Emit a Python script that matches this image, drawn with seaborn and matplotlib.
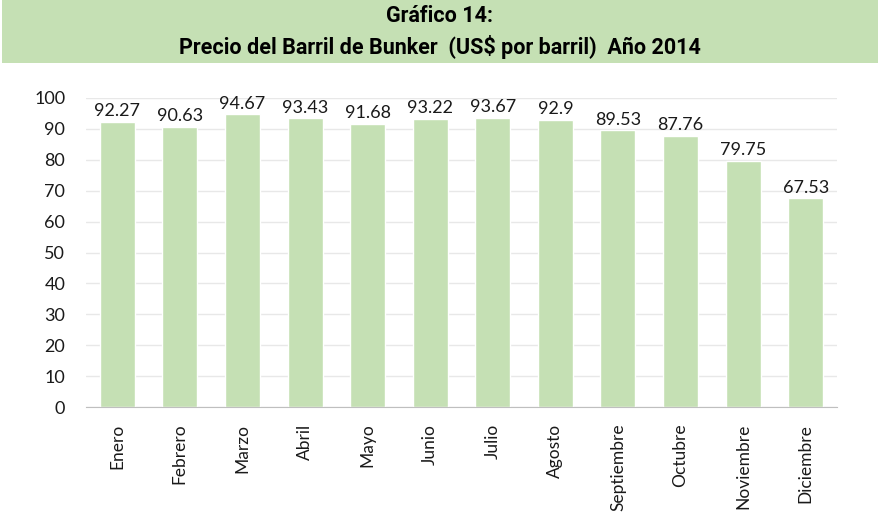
import matplotlib
matplotlib.use('Agg')
import matplotlib.pyplot as plt
import pandas as pd
import seaborn as sns
from matplotlib.patches import Rectangle

meses = ['Enero', 'Febrero', 'Marzo', 'Abril', 'Mayo', 'Junio', 'Julio',
         'Agosto', 'Septiembre', 'Octubre', 'Noviembre', 'Diciembre']
precios = [92.27, 90.63, 94.67, 93.43, 91.68, 93.22, 93.67, 92.9,
           89.53, 87.76, 79.75, 67.53]
etiquetas = ['92.27', '90.63', '94.67', '93.43', '91.68', '93.22', '93.67',
             '92.9', '89.53', '87.76', '79.75', '67.53']

df = pd.DataFrame({'Mes': meses, 'Precio': precios})

sns.set_style('white')
plt.rcParams['font.family'] = ['Lato', 'DejaVu Sans']

verde = '#c5e0b4'
fig = plt.figure(figsize=(8.79, 5.18), dpi=100)

# Banda del titulo
fig.patches.append(Rectangle((2 / 879, 1 - 63 / 518), 1, 63 / 518, transform=fig.transFigure,
                             facecolor=verde, edgecolor='none', zorder=0))
fuente_titulo = ['Roboto', 'DejaVu Sans']
fig.text(0.5, 1 - 16 / 518, 'Gráfico 14:', ha='center', va='center', fontsize=15.5,
         fontweight='bold', family=fuente_titulo, color='black')
fig.text(0.5, 1 - 47 / 518, 'Precio del Barril de Bunker  (US$ por barril)  Año 2014',
         ha='center', va='center', fontsize=15.5, fontweight='bold',
         family=fuente_titulo, color='black')

ax = fig.add_axes([86 / 879, 1 - 407 / 518, (837 - 86) / 879, 309 / 518])
sns.barplot(data=df, x='Mes', y='Precio', color=verde, saturation=1, width=0.56, ax=ax)
ax.bar_label(ax.containers[0], labels=etiquetas, padding=2, fontsize=13, color='#1a1a1a')

ax.set_ylim(0, 100)
ax.set_yticks(range(0, 101, 10))
ax.set_xlim(-0.5, 11.5)
ax.yaxis.grid(True, color='#e8e8e8', linewidth=1)
ax.set_axisbelow(True)
for s in ['top', 'right', 'left']:
    ax.spines[s].set_visible(False)
ax.spines['bottom'].set_color('#bfbfbf')
ax.set_xlabel('')
ax.set_ylabel('')
ax.tick_params(axis='x', rotation=90, labelsize=12.5, length=0, pad=12, labelcolor='#1a1a1a')
ax.tick_params(axis='y', labelsize=13, length=0, pad=15, labelcolor='#1a1a1a')

plt.savefig('out.png', dpi=100)
